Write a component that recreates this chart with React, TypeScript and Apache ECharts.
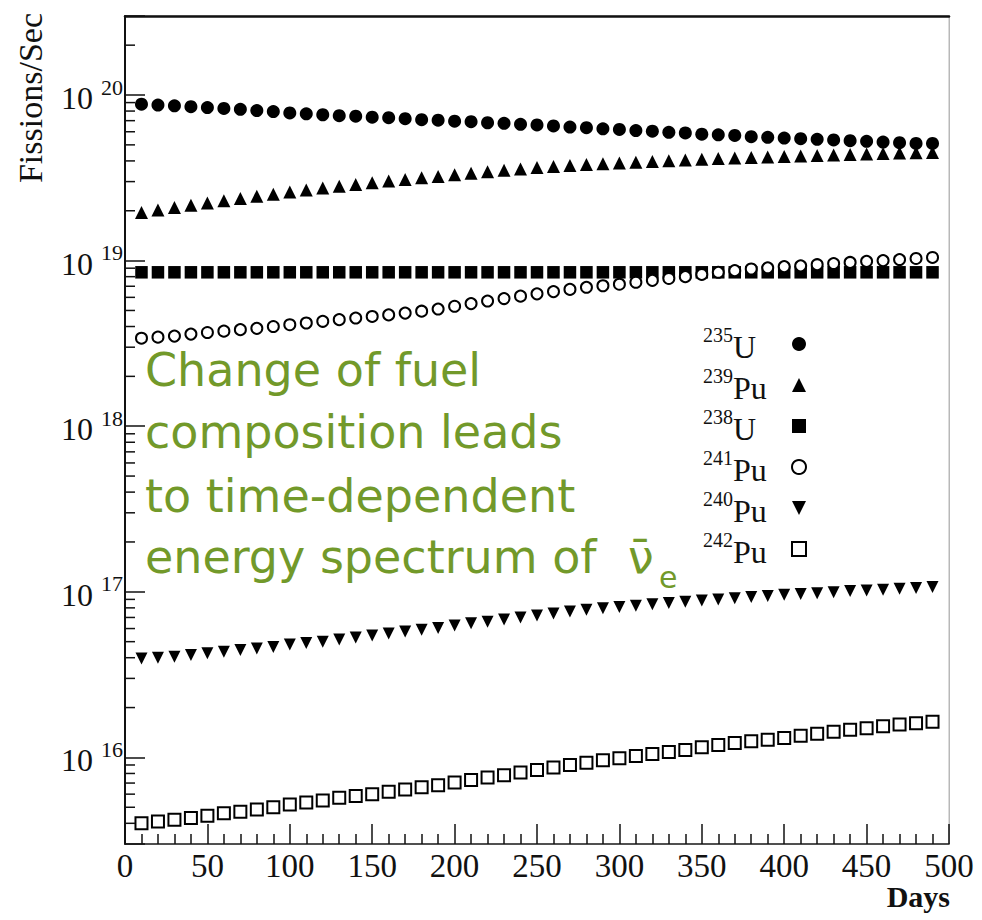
import React, { useEffect, useRef } from 'react';
import * as echarts from 'echarts';

// Days of operation (x values)
const days = [10, 20, 30, 40, 50, 60, 70, 80, 90, 100, 110, 120, 130, 140, 150, 160, 170, 180, 190, 200,
  210, 220, 230, 240, 250, 260, 270, 280, 290, 300, 310, 320, 330, 340, 350, 360, 370, 380, 390, 400,
  410, 420, 430, 440, 450, 460, 470, 480, 490];

// Fissions per second for each isotope
const u235 = [8.8e19, 8.7e19, 8.6e19, 8.5e19, 8.4e19, 8.3e19, 8.2e19, 8.05e19, 7.95e19, 7.8e19,
  7.7e19, 7.6e19, 7.5e19, 7.45e19, 7.35e19, 7.3e19, 7.2e19, 7.1e19, 7.05e19, 6.95e19,
  6.9e19, 6.8e19, 6.75e19, 6.65e19, 6.6e19, 6.5e19, 6.4e19, 6.35e19, 6.25e19, 6.2e19,
  6.1e19, 6.05e19, 5.95e19, 5.9e19, 5.8e19, 5.75e19, 5.7e19, 5.6e19, 5.55e19, 5.5e19,
  5.45e19, 5.4e19, 5.35e19, 5.3e19, 5.25e19, 5.2e19, 5.15e19, 5.1e19, 5.1e19];

const pu239 = [1.95e19, 2.02e19, 2.09e19, 2.16e19, 2.23e19, 2.3e19, 2.37e19, 2.45e19, 2.52e19, 2.6e19,
  2.67e19, 2.74e19, 2.81e19, 2.88e19, 2.95e19, 3.02e19, 3.09e19, 3.16e19, 3.22e19, 3.3e19,
  3.37e19, 3.44e19, 3.51e19, 3.58e19, 3.65e19, 3.7e19, 3.75e19, 3.8e19, 3.84e19, 3.89e19,
  3.93e19, 3.97e19, 4.01e19, 4.05e19, 4.09e19, 4.13e19, 4.17e19, 4.2e19, 4.23e19, 4.26e19,
  4.29e19, 4.32e19, 4.35e19, 4.38e19, 4.41e19, 4.44e19, 4.46e19, 4.48e19, 4.5e19];

const u238 = [8.5e18, 8.5e18, 8.5e18, 8.5e18, 8.5e18, 8.5e18, 8.5e18, 8.5e18, 8.5e18, 8.5e18,
  8.5e18, 8.5e18, 8.5e18, 8.5e18, 8.5e18, 8.5e18, 8.5e18, 8.5e18, 8.5e18, 8.5e18,
  8.5e18, 8.5e18, 8.5e18, 8.5e18, 8.5e18, 8.5e18, 8.5e18, 8.5e18, 8.5e18, 8.5e18,
  8.5e18, 8.5e18, 8.5e18, 8.5e18, 8.5e18, 8.5e18, 8.5e18, 8.5e18, 8.5e18, 8.5e18,
  8.5e18, 8.5e18, 8.5e18, 8.5e18, 8.5e18, 8.5e18, 8.5e18, 8.5e18, 8.5e18];

const pu241 = [3.4e18, 3.45e18, 3.5e18, 3.6e18, 3.68e18, 3.75e18, 3.83e18, 3.9e18, 4.0e18, 4.1e18,
  4.2e18, 4.3e18, 4.4e18, 4.5e18, 4.6e18, 4.7e18, 4.82e18, 4.95e18, 5.1e18, 5.3e18,
  5.5e18, 5.7e18, 5.9e18, 6.1e18, 6.3e18, 6.5e18, 6.7e18, 6.9e18, 7.05e18, 7.2e18,
  7.4e18, 7.6e18, 7.8e18, 8.0e18, 8.25e18, 8.5e18, 8.7e18, 8.9e18, 9.05e18, 9.2e18,
  9.3e18, 9.45e18, 9.6e18, 9.75e18, 9.9e18, 1.0e19, 1.015e19, 1.03e19, 1.045e19];

const pu240 = [3.95e16, 4.0e16, 4.05e16, 4.15e16, 4.25e16, 4.35e16, 4.45e16, 4.55e16, 4.65e16, 4.8e16,
  4.9e16, 5.0e16, 5.15e16, 5.3e16, 5.45e16, 5.6e16, 5.75e16, 5.9e16, 6.05e16, 6.25e16,
  6.45e16, 6.6e16, 6.8e16, 7.0e16, 7.2e16, 7.4e16, 7.6e16, 7.8e16, 7.95e16, 8.1e16,
  8.25e16, 8.4e16, 8.55e16, 8.7e16, 8.85e16, 9.0e16, 9.15e16, 9.3e16, 9.45e16, 9.6e16,
  9.7e16, 9.8e16, 9.95e16, 1.01e17, 1.02e17, 1.03e17, 1.045e17, 1.055e17, 1.07e17];

const pu242 = [4.0e15, 4.1e15, 4.2e15, 4.3e15, 4.45e15, 4.6e15, 4.7e15, 4.85e15, 5.0e15, 5.2e15,
  5.35e15, 5.5e15, 5.7e15, 5.85e15, 6.0e15, 6.2e15, 6.4e15, 6.6e15, 6.8e15, 7.05e15,
  7.3e15, 7.55e15, 7.8e15, 8.1e15, 8.4e15, 8.7e15, 9.0e15, 9.3e15, 9.6e15, 9.9e15,
  1.02e16, 1.05e16, 1.08e16, 1.11e16, 1.15e16, 1.19e16, 1.22e16, 1.25e16, 1.28e16, 1.31e16,
  1.35e16, 1.39e16, 1.43e16, 1.47e16, 1.5e16, 1.54e16, 1.58e16, 1.61e16, 1.64e16];

const seriesNames = ['235U', '239Pu', '238U', '241Pu', '240Pu', '242Pu'];

// Log-axis minor tick multipliers and decades
const minorMultipliers = [2, 3, 4, 5, 6, 7, 8, 9];
const decades = [15, 16, 17, 18, 19, 20];

const annotationLines = ['Change of fuel', 'composition leads', 'to time-dependent', 'energy spectrum of'];

const SERIF = 'Liberation Serif';
const GREEN = '#72992a';

export default function App() {
  const ref = useRef<HTMLDivElement>(null);

  useEffect(() => {
    if (!ref.current) return;
    const chart = echarts.init(ref.current, null, { renderer: 'svg' });

    const yMin = 3e15;
    const yMax = 3e20;
    const yMinor: number[] = [];
    decades.forEach((d) => {
      minorMultipliers.forEach((m) => {
        const v = m * Math.pow(10, d);
        if (v > yMin * 1.0001 && v < yMax * 0.9999) yMinor.push(v);
      });
    });

    const pts = (arr: number[]) => days.map((d, i) => [d, arr[i]]);

    const base = { type: 'scatter', xAxisIndex: 0, yAxisIndex: 0, z: 3 };
    const black = { color: '#000', opacity: 1 };

    const option: any = {
      animation: false,
      backgroundColor: '#ffffff',
      grid: { left: 125, right: 33, top: 16, bottom: 76, show: true, borderColor: '#b8b8b8', borderWidth: 1, backgroundColor: 'transparent' },
      xAxis: [
        {
          type: 'value', min: 0, max: 500, interval: 50, position: 'bottom',
          axisLine: { show: true, onZero: false, lineStyle: { color: '#222', width: 1.5 } },
          axisTick: { show: true, inside: true, length: 20, lineStyle: { color: '#111', width: 1.5 } },
          minorTick: { show: true, splitNumber: 5, length: 10, lineStyle: { color: '#111', width: 1.5 } },
          axisLabel: {
            show: true, margin: 5,
            formatter: (v: number) => '{a|' + v + '}',
            rich: { a: { fontSize: 33, fontFamily: SERIF, color: '#111' } },
          },
          splitLine: { show: false },
          minorSplitLine: { show: false },
        },
        {
          type: 'value', min: 0, max: 500, position: 'top',
          axisLine: { show: true, onZero: false, lineStyle: { color: '#111', width: 2.5 } },
          axisTick: { show: false }, axisLabel: { show: false }, splitLine: { show: false },
        },
      ],
      yAxis: [
        {
          type: 'log', logBase: 10, min: yMin, max: yMax, position: 'left',
          axisLine: { show: true, onZero: false, lineStyle: { color: '#111', width: 2 } },
          axisTick: { show: true, inside: true, length: 20, lineStyle: { color: '#111', width: 1.5 } },
          axisLabel: {
            margin: 2,
            formatter: (v: number) => {
              const e = Math.log10(v);
              if (Math.abs(e - Math.round(e)) > 1e-6) return '';
              return '{b|10}{s|' + Math.round(e) + '}';
            },
            rich: {
              b: { fontSize: 32, lineHeight: 38, verticalAlign: 'bottom', fontFamily: SERIF, color: '#111' },
              s: { fontSize: 22, lineHeight: 22, verticalAlign: 'top', fontFamily: SERIF, color: '#111', padding: [0, 0, 0, 8] },
            },
          },
          splitLine: { show: false },
        },
        {
          type: 'value', min: 0, max: 1, position: 'right',
          axisLine: { show: true, onZero: false, lineStyle: { color: '#b8b8b8', width: 1 } },
          axisTick: { show: false }, axisLabel: { show: false }, splitLine: { show: false },
        },
      ],
      legend: {
        data: [
          { name: seriesNames[0], icon: 'circle' },
          { name: seriesNames[1], icon: 'triangle' },
          { name: seriesNames[2], icon: 'rect' },
          { name: seriesNames[3], icon: 'emptyCircle', itemStyle: { borderWidth: 1.3 } },
          { name: seriesNames[4], icon: 'path://M0,0L10,0L5,10Z' },
          { name: seriesNames[5], icon: 'emptyRect', itemStyle: { borderWidth: 1.5 } },
        ],
        orient: 'vertical',
        left: 703,
        top: 325,
        align: 'right',
        itemGap: 3,
        itemWidth: 14,
        itemHeight: 14,
        padding: 0,
        selectedMode: false,
        formatter: (n: string) => {
          const m = n.match(/^(\d+)(\D+)$/);
          return m ? '{s|' + m[1] + '}{m|' + m[2] + '}' : n;
        },
        textStyle: {
          width: 84,
          color: '#111',
          fontFamily: SERIF,
          rich: {
            s: { fontSize: 20, lineHeight: 20, verticalAlign: 'top', align: 'left', fontFamily: SERIF, color: '#111' },
            m: { fontSize: 32, lineHeight: 38, verticalAlign: 'bottom', align: 'left', fontFamily: SERIF, color: '#111' },
          },
        },
      },
      series: [
        { ...base, name: seriesNames[0], symbol: 'circle', symbolSize: 13, itemStyle: black, data: pts(u235) },
        { ...base, name: seriesNames[1], symbol: 'triangle', symbolSize: 13, itemStyle: black, data: pts(pu239) },
        { ...base, name: seriesNames[2], symbol: 'rect', symbolSize: 12.5, itemStyle: black, data: pts(u238) },
        { ...base, name: seriesNames[3], symbol: 'emptyCircle', symbolSize: 11, itemStyle: { ...black, borderWidth: 1.3 }, data: pts(pu241) },
        { ...base, name: seriesNames[4], symbol: 'triangle', symbolRotate: 180, symbolSize: 12, itemStyle: black, data: pts(pu240) },
        { ...base, name: seriesNames[5], symbol: 'emptyRect', symbolSize: 12, itemStyle: { ...black, borderWidth: 1.5 }, data: pts(pu242) },
        {
          type: 'custom', name: 'yMinorTicks', xAxisIndex: 0, yAxisIndex: 0, silent: true, clip: false, z: 4,
          data: yMinor.map((v) => [0, v]),
          encode: { x: 0, y: 1 },
          renderItem: (_p: any, api: any) => {
            const p = api.coord([0, api.value(1)]);
            return { type: 'line', shape: { x1: p[0], y1: p[1], x2: p[0] + 10, y2: p[1] }, style: { stroke: '#111', lineWidth: 1.5 } };
          },
        },
      ],
      graphic: [
        {
          type: 'text', x: 30, y: 13, rotation: Math.PI / 2,
          style: { text: 'Fissions/Sec', fontSize: 34, fontFamily: SERIF, fill: '#111', align: 'right', verticalAlign: 'middle' },
        },
        {
          type: 'text', right: 32, top: 881,
          style: { text: 'Days', fontSize: 30, fontWeight: 'bold', fontFamily: SERIF, fill: '#111' },
        },
        ...annotationLines.map((t, i) => ({
          type: 'text', x: 145, y: [370, 432, 496, 557][i], z: 10,
          style: { text: t, fontSize: 46, fontFamily: 'DejaVu Sans', fill: GREEN, align: 'left', verticalAlign: 'middle' },
        })),
        {
          type: 'text', x: 628, y: 557, z: 10,
          style: { text: '\u03BD\u0304', fontSize: 46, fontFamily: 'DejaVu Sans', fill: GREEN, align: 'left', verticalAlign: 'middle' },
        },
        {
          type: 'text', x: 659, y: 577, z: 10,
          style: { text: 'e', fontSize: 30, fontFamily: 'DejaVu Sans', fill: GREEN, align: 'left', verticalAlign: 'middle' },
        },
      ],
    };

    chart.setOption(option);
    return () => chart.dispose();
  }, []);

  return <div ref={ref} style={{ position: 'absolute', left: 0, top: 0, width: 982, height: 920 }} />;
}
